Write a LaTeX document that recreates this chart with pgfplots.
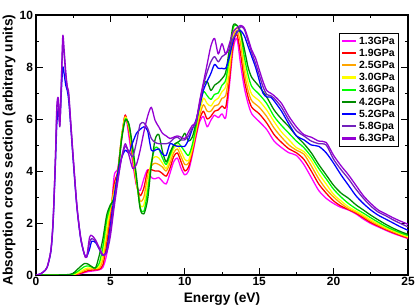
\documentclass[border=0pt]{standalone}
\usepackage{pgfplots}
\usepackage{pgfplotstable}
\usepackage{fontspec}
\setmainfont{Liberation Sans}
\pgfplotsset{compat=1.18}
\definecolor{cP}{RGB}{255,0,255}
\definecolor{cR}{RGB}{255,0,0}
\definecolor{cO}{RGB}{255,165,0}
\definecolor{cY}{RGB}{255,255,0}
\definecolor{cG}{RGB}{0,255,0}
\definecolor{cG4}{RGB}{0,139,0}
\definecolor{cB}{RGB}{0,0,255}
\definecolor{cI}{RGB}{114,33,188}
\definecolor{cV}{RGB}{148,0,211}
\pgfplotstableread{
E P R O Y G1 G2
0 0 0 0 0 0 0
2.25 0 0 0 0 0.01 0.02
2.75 0.02 0.03 0.05 0.07 0.12 0.2
3.0 0.05 0.07 0.1 0.14 0.22 0.33
3.25 0.09 0.12 0.17 0.22 0.32 0.44
3.5 0.13 0.17 0.22 0.27 0.35 0.42
3.75 0.15 0.19 0.24 0.27 0.31 0.32
4.0 0.17 0.2 0.24 0.26 0.27 0.27
4.25 0.2 0.22 0.27 0.32 0.45 0.75
4.5 0.3 0.4 0.6 0.8 1.1 1.4
4.75 0.8 1.2 1.5 1.8 2.1 2.3
5.0 2.0 2.3 2.5 2.6 2.65 2.7
5.25 3.8 3.5 3.3 3.1 3.0 2.95
5.5 4.1 4.0 3.9 3.85 3.85 3.9
5.75 5.2 5.3 5.3 5.3 5.25 5.2
6.0 6.15 6.15 6.1 6.05 6.0 5.95
6.25 5.3 5.5 5.6 5.7 5.75 5.8
6.5 4.3 4.5 4.6 4.7 4.8 4.9
6.75 3.45 3.5 3.55 3.6 3.7 3.8
7.0 3.25 3.05 2.85 2.7 2.6 2.55
7.25 3.7 3.35 3.0 2.7 2.45 2.35
7.5 4.05 4.0 3.8 3.5 3.2 2.9
7.75 3.75 4.05 4.2 4.35 4.3 4.2
8.0 3.7 4.0 4.3 4.55 4.9 5.2
8.25 3.75 4.0 4.25 4.5 4.85 5.4
8.5 3.6 3.9 4.15 4.3 4.5 4.75
8.75 3.5 3.8 4.0 4.1 4.25 4.35
9.0 3.9 4.1 4.3 4.45 4.6 4.7
9.25 4.35 4.55 4.7 4.85 4.95 5.0
9.5 4.5 4.7 4.85 5.0 5.1 5.1
9.75 4.1 4.35 4.55 4.75 4.95 5.2
10.0 3.85 4.0 4.25 4.45 4.75 5.45
10.25 4.0 4.15 4.3 4.4 4.6 5.15
10.5 4.6 4.7 4.8 4.9 5.0 5.3
10.75 5.3 5.4 5.5 5.6 5.7 5.85
11.0 5.9 6.0 6.15 6.3 6.5 6.6
11.25 6.1 6.3 6.55 6.8 7.05 7.3
11.5 5.7 6.0 6.3 6.6 6.9 7.45
11.75 5.95 6.1 6.3 6.5 6.75 7.1
12.0 6.15 6.3 6.5 6.7 6.95 7.3
12.25 6.05 6.35 6.55 6.8 7.0 7.4
12.5 6.2 6.5 6.8 7.05 7.3 7.55
12.75 6.05 6.45 6.9 7.25 7.5 7.8
13.0 7.3 7.5 7.8 8.1 8.4 8.7
13.25 8.7 8.9 9.1 9.3 9.5 9.6
13.5 9.1 9.25 9.4 9.5 9.6 9.6
13.75 8.1 8.5 8.9 9.2 9.35 9.3
14.0 7.2 7.5 7.8 8.1 8.4 8.7
14.25 6.6 6.85 7.1 7.4 7.7 8.0
14.5 6.2 6.45 6.7 6.95 7.25 7.6
15.0 5.9 6.2 6.45 6.7 6.95 7.25
15.5 5.6 5.85 6.1 6.35 6.6 6.85
16.0 5.15 5.4 5.65 5.9 6.1 6.35
16.5 4.9 5.1 5.3 5.5 5.75 6.0
17.0 4.7 4.85 5.0 5.2 5.45 5.7
17.5 4.6 4.7 4.8 4.9 5.15 5.35
18.0 4.25 4.45 4.65 4.75 4.9 5.05
18.5 3.75 4.0 4.2 4.4 4.55 4.7
19.0 3.25 3.5 3.7 3.9 4.1 4.25
19.5 2.95 3.15 3.3 3.5 3.7 3.85
20.0 2.75 2.85 3.0 3.1 3.3 3.45
20.5 2.6 2.65 2.75 2.85 3.0 3.15
21.0 2.5 2.52 2.55 2.62 2.75 2.95
21.5 2.35 2.38 2.42 2.46 2.55 2.7
22.0 2.15 2.2 2.25 2.3 2.38 2.5
22.5 1.98 2.02 2.07 2.12 2.2 2.3
23.0 1.85 1.88 1.92 1.97 2.03 2.12
23.5 1.72 1.75 1.78 1.82 1.87 1.95
24.0 1.6 1.63 1.66 1.7 1.74 1.8
24.5 1.5 1.52 1.55 1.58 1.62 1.67
25.0 1.4 1.42 1.45 1.48 1.52 1.56
}\lowtab
\pgfplotstableread{
E B V1 V2
0 0 0 0
0.25 0.03 0.03 0.03
0.5 0.12 0.12 0.12
0.75 0.3 0.3 0.3
1.0 0.9 0.95 0.95
1.15 2.0 2.1 2.1
1.3 4.2 4.4 4.4
1.4 5.8 6.3 6.5
1.5 6.4 6.75 6.8
1.6 5.9 5.7 5.75
1.7 7.0 7.3 7.4
1.8 8.0 8.9 9.2
1.9 7.7 8.4 8.6
2.0 7.3 7.7 7.8
2.1 7.1 7.2 7.25
2.2 6.7 6.9 7.0
2.35 5.6 5.7 5.75
2.5 4.4 4.5 4.55
2.75 2.6 2.65 2.65
3.0 1.4 1.45 1.45
3.25 0.8 0.8 0.8
3.4 0.7 0.68 0.68
3.6 1.0 1.25 1.45
3.75 1.3 1.4 1.52
4.0 1.25 1.3 1.35
4.25 1.0 1.0 1.05
4.5 0.75 0.75 0.78
4.75 0.95 0.9 0.85
5.0 1.9 1.7 1.5
5.25 3.0 2.8 2.6
5.5 3.9 3.7 3.6
5.75 4.5 4.5 4.5
6.0 4.8 4.95 5.05
6.25 4.7 4.75 4.6
6.5 5.1 4.55 4.1
6.75 5.45 5.1 4.25
7.0 5.6 5.8 4.8
7.25 5.7 5.85 5.5
7.5 5.55 5.65 6.1
7.75 4.8 5.25 6.45
8.0 4.8 5.1 5.95
8.25 4.85 5.05 5.7
8.5 4.65 5.05 5.45
8.75 4.6 5.05 5.35
9.0 5.05 5.1 5.25
9.25 5.0 5.25 5.3
9.5 4.95 5.3 5.35
9.75 4.95 5.2 5.3
10.0 4.95 5.2 5.25
10.25 5.2 5.35 5.5
10.5 5.6 5.65 5.75
10.75 5.95 5.85 5.9
11.0 6.5 6.6 6.7
11.25 7.1 7.3 7.4
11.5 7.45 7.8 8.1
11.75 7.75 8.2 8.8
12.0 8.1 8.4 9.1
12.25 7.95 8.2 8.5
12.5 7.95 8.4 8.9
12.75 7.95 8.5 8.5
13.0 8.4 8.7 8.9
13.25 9.0 9.1 9.35
13.5 9.35 9.3 9.5
13.75 9.4 9.55 9.6
14.0 9.2 9.45 9.5
14.25 8.8 9.0 9.1
14.5 8.4 8.55 8.65
14.75 8.0 8.15 8.35
15.0 7.5 7.7 7.9
15.25 7.0 7.25 7.45
15.5 6.85 6.95 7.1
15.75 6.85 6.9 7.0
16.0 6.7 6.8 6.9
16.5 6.3 6.45 6.6
17.0 5.8 5.95 6.1
17.5 5.35 5.55 5.7
18.0 5.2 5.35 5.4
18.5 5.0 5.15 5.3
19.0 4.95 5.05 5.15
19.5 4.7 5.0 5.1
20.0 4.3 4.45 4.6
20.5 3.85 4.05 4.2
21.0 3.45 3.7 3.85
21.5 3.05 3.3 3.45
22.0 2.75 2.95 3.05
22.5 2.5 2.65 2.75
23.0 2.3 2.42 2.5
23.5 2.15 2.28 2.35
24.0 2.0 2.12 2.2
24.5 1.85 1.98 2.07
25.0 1.72 1.85 1.95
}\hightab
\begin{document}
\begin{tikzpicture}
\path[use as bounding box] (-36bp,-32bp) rectangle (379bp,275bp);
\begin{axis}[
  scale only axis, width=372bp, height=260bp, at={(0,0)}, anchor=south west,
  xmin=0, xmax=25, ymin=0, ymax=10,
  xtick={0,5,...,25}, ytick={0,2,...,10},
  minor x tick num=1, minor y tick num=1,
  tick align=inside, tick pos=both,
  major tick length=7bp, minor tick length=3.5bp,
  every tick/.style={black, line width=0.9pt},
  axis line style={line width=1.2pt},
  /pgf/number format/assume math mode=true,
  ticklabel style={font=\bfseries\fontsize{12}{13}\selectfont},
  xticklabel style={yshift=1.5bp},
  yticklabel style={xshift=0.5bp},
  xlabel={Energy (eV)}, ylabel={Absorption cross section (arbitrary units)},
  label style={font=\bfseries\fontsize{13.8}{15}\selectfont},
  xlabel style={at={(axis description cs:0.5,0)}, anchor=base, yshift=-27bp},
  ylabel style={at={(axis description cs:0,0.48)}, anchor=center, yshift=27bp},
  legend cell align=left,
  legend style={at={(1,1)}, anchor=north east, xshift=-9bp, yshift=-18bp,
    draw=black, line width=0.8pt, font=\bfseries\fontsize{10.5}{12}\selectfont,
    inner xsep=2bp, inner ysep=1.5bp, row sep=-0.6bp},
  legend image code/.code={\draw[line width=2.2pt,line cap=butt] (0bp,0.3bp) -- (14bp,0.3bp);},
  every axis plot/.append style={line width=1.3pt, line join=round},
]
\addplot[cP, smooth, tension=0.45] table[x=E,y=P] {\lowtab}; \addlegendentry{1.3GPa}
\addplot[cR, smooth, tension=0.45] table[x=E,y=R] {\lowtab}; \addlegendentry{1.9GPa}
\addplot[cO, smooth, tension=0.45] table[x=E,y=O] {\lowtab}; \addlegendentry{2.5GPa}
\addplot[cY, smooth, tension=0.45] table[x=E,y=Y] {\lowtab}; \addlegendentry{3.0GPa}
\addplot[cG, smooth, tension=0.45] table[x=E,y=G1] {\lowtab}; \addlegendentry{3.6GPa}
\addplot[cG4, smooth, tension=0.45] table[x=E,y=G2] {\lowtab}; \addlegendentry{4.2GPa}
\addplot[cB, smooth, tension=0.45] table[x=E,y=B] {\hightab}; \addlegendentry{5.2GPa}
\addplot[cI, smooth, tension=0.45] table[x=E,y=V1] {\hightab}; \addlegendentry{5.8Gpa}
\addplot[cV, smooth, tension=0.45] table[x=E,y=V2] {\hightab}; \addlegendentry{6.3GPa}
\end{axis}
\end{tikzpicture}
\end{document}
